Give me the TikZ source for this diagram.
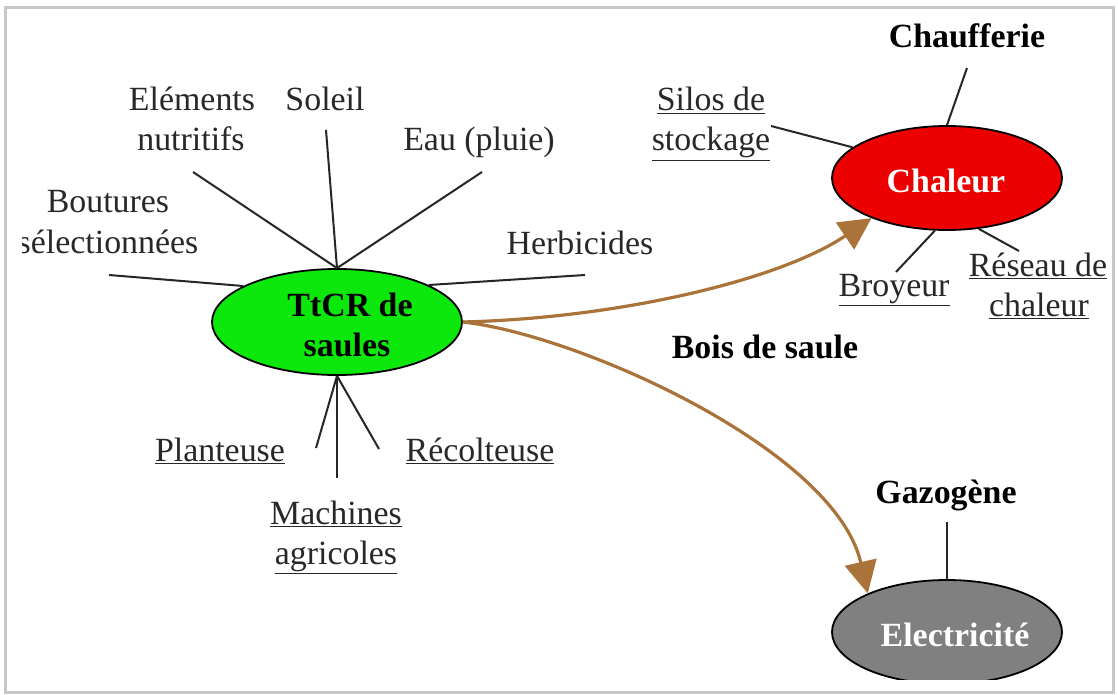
\documentclass[tikz,border=0pt]{standalone}
\usepackage{fontspec}
\setmainfont{Liberation Serif}
\usetikzlibrary{arrows.meta,shapes.geometric}
\definecolor{tgreen}{RGB}{12,232,12}
\definecolor{tred}{RGB}{236,0,0}
\definecolor{tgray}{RGB}{128,128,128}
\definecolor{tbrown}{RGB}{170,115,58}
\definecolor{ttext}{RGB}{40,40,40}
\begin{document}
\begin{tikzpicture}[x=1bp,y=-1bp,
  lbl/.style={font=\fontsize{34}{40}\selectfont, text=ttext, anchor=base, inner sep=0pt},
  blbl/.style={lbl, font=\fontsize{34}{40}\selectfont\bfseries, text=black},
  wlbl/.style={blbl, text=white},
  spoke/.style={draw=black!85, line width=2bp},
  flow/.style={draw=tbrown, line width=3.2bp, -{Triangle[length=32bp,width=32bp]}},
  oval/.style={ellipse, draw=black, line width=1.8bp, inner sep=0pt, minimum width=230bp, minimum height=104bp}
]
\useasboundingbox (0,0) rectangle (1118,695);
\fill[white] (0,0) rectangle (1118,695);
\draw[black!22, line width=3bp] (5,8) rectangle (1113,692);
\begin{scope}
\clip (22,20) rectangle (1110,679);
% central node
\node[oval, fill=tgreen, minimum width=250bp, minimum height=106bp] (ttcr) at (337,322) {};
\node[blbl] (ttcr1) at (350,316) {TtCR de};
\node[blbl] (ttcr2) at (347,356) {saules};
% heat and electricity
\node[oval, fill=tred] (chal) at (947,178) {};
\node[wlbl] (chaltxt) at (946,193) {Chaleur};
\node[oval, fill=tgray] (elec) at (947,632) {};
\node[wlbl] (electxt) at (955,646) {Electricité};
% labels around TtCR
\node[lbl] (elem1) at (192,111) {Eléments};
\node[lbl] (elem2) at (191,151) {nutritifs};
\node[lbl] (soleil) at (325,111) {Soleil};
\node[lbl] (eau) at (479,151) {Eau (pluie)};
\node[lbl] (bout1) at (108,213) {Boutures};
\node[lbl] (bout2) at (108,253) {sélectionnées};
\node[lbl] (herb) at (580,254) {Herbicides};
\node[lbl] (plant) at (220,461) {\underline{Planteuse}};
\node[lbl] (recol) at (480,461) {\underline{Récolteuse}};
\node[lbl] (mach1) at (336,524) {\underline{Machines}};
\node[lbl] (mach2) at (336,564) {\underline{agricoles}};
% labels around Chaleur
\node[blbl] (chauf) at (967,48) {Chaufferie};
\node[lbl] (silo1) at (711,111) {\underline{Silos de}};
\node[lbl] (silo2) at (711,151) {\underline{stockage}};
\node[lbl] (broy) at (894,296) {\underline{Broyeur}};
\node[lbl] (res1) at (1038,276) {\underline{Réseau de}};
\node[lbl] (res2) at (1039,316) {\underline{chaleur}};
% other labels
\node[blbl] (bois) at (765,358) {Bois de saule};
\node[blbl] (gaz) at (946,503) {Gazogène};
% spoke ends
\coordinate (eBout) at (109,275);
\coordinate (eElem) at (193,172);
\coordinate (eSol) at (326,130);
\coordinate (eEau) at (482,172);
\coordinate (eHerb) at (585,275);
\coordinate (ePlant) at (316,448);
\coordinate (eMach) at (337,478);
\coordinate (eRecol) at (379,449);
\coordinate (eChauf) at (967,68);
\coordinate (eSilo) at (771,126);
\coordinate (eBroy) at (896,272);
\coordinate (eRes) at (1019,251);
\coordinate (eGaz) at (947,522);
% spokes
\draw[spoke] (eBout) -- (ttcr.159);
\draw[spoke] (eElem) -- (ttcr.north);
\draw[spoke] (eSol) -- (ttcr.north);
\draw[spoke] (eEau) -- (ttcr.north);
\draw[spoke] (eHerb) -- (ttcr.22);
\draw[spoke] (ePlant) -- (ttcr.south);
\draw[spoke] (eMach) -- (ttcr.south);
\draw[spoke] (eRecol) -- (ttcr.south);
\draw[spoke] (eChauf) -- (chal.north);
\draw[spoke] (eSilo) -- (chal.162);
\draw[spoke] (eBroy) -- (chal.-103);
\draw[spoke] (eRes) -- (chal.-58);
\draw[spoke] (eGaz) -- (elec.north);
% flows
\draw[flow] (ttcr.east) .. controls (620,318) and (780,280) .. (chal.-152);
\draw[flow] (ttcr.east) .. controls (580,335) and (835,450) .. (elec.154);
\end{scope}
\end{tikzpicture}
\end{document}
